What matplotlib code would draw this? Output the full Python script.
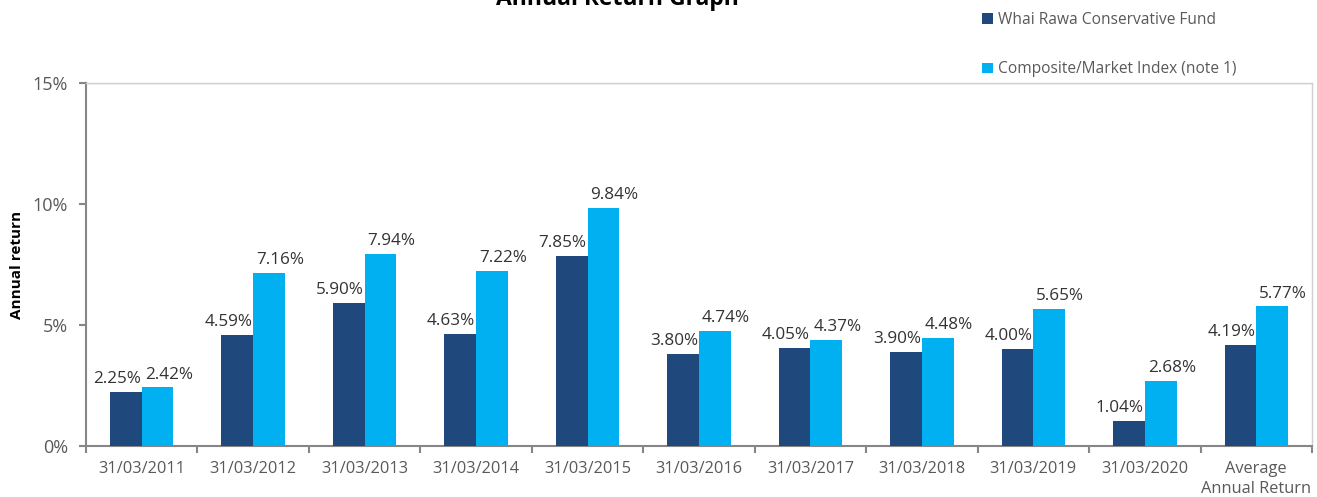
"""Annual return bar chart: Whai Rawa Conservative Fund vs composite index."""

import matplotlib
matplotlib.use("Agg")
import matplotlib.pyplot as plt
import numpy as np
from matplotlib.ticker import FuncFormatter

# --- data ---
CATEGORIES = [
    "31/03/2011", "31/03/2012", "31/03/2013", "31/03/2014", "31/03/2015",
    "31/03/2016", "31/03/2017", "31/03/2018", "31/03/2019", "31/03/2020",
    "Average\nAnnual Return",
]
FUND = [2.25, 4.59, 5.90, 4.63, 7.85, 3.80, 4.05, 3.90, 4.00, 1.04, 4.19]
INDEX = [2.42, 7.16, 7.94, 7.22, 9.84, 4.74, 4.37, 4.48, 5.65, 2.68, 5.77]
SERIES_NAMES = ["Whai Rawa Conservative Fund", "Composite/Market Index (note 1)"]
Y_TICKS = [0, 5, 10, 15]

# --- style ---
FUND_COLOR = "#1F497D"
INDEX_COLOR = "#00B0F0"
TEXT_COLOR = "#595959"
LABEL_COLOR = "#333333"
AXIS_COLOR = "#868686"
FRAME_COLOR = "#D0D0D0"
BAR_WIDTH = 0.285
LABEL_SIZE = 12.3
# labels sit a little outward from their bar centres (points)
FUND_LABEL_DX = -6.5
INDEX_LABEL_DX = 8.0
FONT = ["Open Sans", "DejaVu Sans"]

plt.rcParams["font.family"] = FONT

fig = plt.figure(figsize=(13.17, 4.97), dpi=100)
ax = fig.add_axes([0.0653, 0.1026, 0.9309, 0.7304])

x = np.arange(len(CATEGORIES))
b1 = ax.bar(x - BAR_WIDTH / 2, FUND, BAR_WIDTH, color=FUND_COLOR,
            label=SERIES_NAMES[0], zorder=3)
b2 = ax.bar(x + BAR_WIDTH / 2, INDEX, BAR_WIDTH, color=INDEX_COLOR,
            label=SERIES_NAMES[1], zorder=3)

for bars, vals, dx in ((b1, FUND, FUND_LABEL_DX), (b2, INDEX, INDEX_LABEL_DX)):
    for rect, v in zip(bars, vals):
        ax.annotate(f"{v:.2f}%", (rect.get_x() + rect.get_width() / 2, v),
                    textcoords="offset points", xytext=(dx, 3.5),
                    ha="center", va="bottom", fontsize=LABEL_SIZE,
                    color=LABEL_COLOR, zorder=4)

ax.set_xlim(-0.5, len(CATEGORIES) - 0.5)
ax.set_ylim(0, 15)
ax.set_yticks(Y_TICKS)
ax.yaxis.set_major_formatter(FuncFormatter(lambda v, _: f"{v:.0f}%"))
ax.set_xticks(x)
ax.set_xticklabels(CATEGORIES, linespacing=1.3)
ax.set_xticks(np.arange(len(CATEGORIES) + 1) - 0.5, minor=True)
ax.tick_params(axis="x", which="major", length=0, pad=11,
               labelsize=11.8, labelcolor=TEXT_COLOR)
ax.tick_params(axis="x", which="minor", length=5, width=1.5, color=AXIS_COLOR)
ax.tick_params(axis="y", length=5, width=1.5, color=AXIS_COLOR, pad=8,
               labelsize=13, labelcolor=TEXT_COLOR)

ax.axhline(15, color=FRAME_COLOR, lw=1, zorder=1)
for side in ("left", "bottom"):
    ax.spines[side].set_color(AXIS_COLOR)
    ax.spines[side].set_linewidth(1.5)
for side in ("top", "right"):
    ax.spines[side].set_color(FRAME_COLOR)
    ax.spines[side].set_linewidth(1)

fig.text(17 / 1317, 0.5 * (0.1026 + 0.833), "Annual return", rotation=90,
         ha="center", va="center", fontsize=11, fontweight="bold",
         color="black")

# title sits mostly above the canvas, as in the source image
fig.text(0.469, 1 - 5 / 497, "Annual Return Graph", ha="center",
         va="baseline", fontsize=16.5, fontweight="bold", color="black")

leg = fig.legend(handles=[b1, b2], loc="upper left",
                 bbox_to_anchor=(0.735, 1.004), frameon=False,
                 fontsize=11.2, labelspacing=2.15, handlelength=0.7,
                 handleheight=0.7, handletextpad=0.3)
for t in leg.get_texts():
    t.set_color(TEXT_COLOR)

fig.savefig("out.png", dpi=100, facecolor="white")
